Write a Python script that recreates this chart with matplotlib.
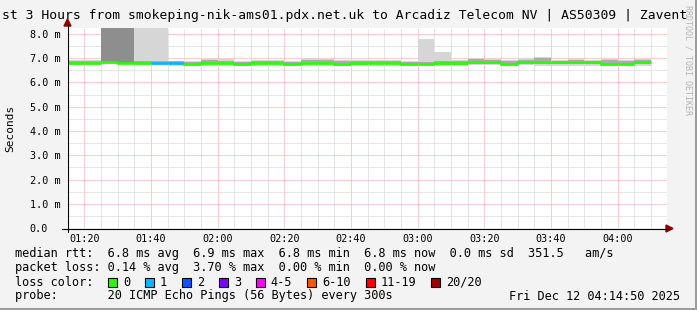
import matplotlib.pyplot as plt
from matplotlib.patches import Rectangle, Polygon
from matplotlib.lines import Line2D

W, H = 697, 310

# time window: 01:14:50 .. 04:14:50 (minutes after midnight)
t_start = 74 + 50 / 60
t_end = t_start + 180
first_seg = 75          # 01:15
step = 5                # 300 s

# per 5 minute interval (01:15 .. 04:05)
median = [6.82, 6.82, 6.84, 6.82, 6.82, 6.82, 6.82, 6.77, 6.82, 6.80,
          6.76, 6.79, 6.79, 6.76, 6.81, 6.81, 6.77, 6.79, 6.82, 6.82,
          6.78, 6.78, 6.82, 6.81, 6.83, 6.83, 6.78, 6.83, 6.83, 6.83,
          6.83, 6.83, 6.78, 6.78, 6.83]
loss = [0, 0, 0, 0, 0, 1, 1, 0, 0, 0,
        0, 0, 0, 0, 0, 0, 0, 0, 0, 0,
        0, 0, 0, 0, 0, 0, 0, 0, 0, 0,
        0, 0, 0, 0, 0]
smoke_lo = [6.72, 6.72, 6.76, 6.76, 6.72, 6.72, 6.70, 6.68, 6.70, 6.70,
            6.68, 6.70, 6.70, 6.68, 6.70, 6.70, 6.68, 6.70, 6.70, 6.70,
            6.70, 6.70, 6.68, 6.68, 6.72, 6.72, 6.70, 6.72, 6.70, 6.70,
            6.70, 6.70, 6.70, 6.70, 6.70]
smoke_hi = [6.92, 6.92, 9.00, 9.00, 9.00, 9.00, 6.90, 6.88, 6.98, 6.96,
            6.88, 6.92, 6.92, 6.88, 7.00, 6.98, 6.94, 6.94, 6.94, 6.94,
            6.88, 7.79, 7.26, 6.94, 7.02, 6.97, 6.92, 7.00, 7.06, 6.94,
            6.97, 6.94, 6.98, 6.92, 6.98]
core_lo = [6.77, 6.77, 6.80, 6.80, 6.77, 6.77, 6.75, 6.73, 6.77, 6.75,
           6.72, 6.75, 6.75, 6.72, 6.75, 6.75, 6.72, 6.74, 6.76, 6.76,
           6.73, 6.73, 6.73, 6.73, 6.77, 6.77, 6.73, 6.77, 6.75, 6.75,
           6.75, 6.75, 6.74, 6.74, 6.75]
core_hi = [6.88, 6.88, 9.00, 9.00, 6.90, 6.90, 6.88, 6.84, 6.92, 6.90,
           6.84, 6.88, 6.88, 6.84, 6.94, 6.92, 6.90, 6.90, 6.90, 6.90,
           6.84, 6.86, 6.90, 6.90, 6.96, 6.92, 6.88, 6.94, 7.00, 6.90,
           6.92, 6.90, 6.92, 6.88, 6.92]

tick_times = [80, 100, 120, 140, 160, 180, 200, 220, 240]
tick_labels = ['01:20', '01:40', '02:00', '02:20', '02:40', '03:00', '03:20', '03:40', '04:00']
y_ticks = [0, 1, 2, 3, 4, 5, 6, 7, 8]
y_labels = ['0.0', '1.0 m', '2.0 m', '3.0 m', '4.0 m', '5.0 m', '6.0 m', '7.0 m', '8.0 m']

loss_names = ['0', '1', '2', '3', '4-5', '6-10', '11-19', '20/20']
loss_colors = ['#26ff00', '#00b8ff', '#0059ff', '#7e00ff', '#ff00ff', '#ff5500', '#ff0000', '#a10000']

title = 'st 3 Hours from smokeping-nik-ams01.pdx.net.uk to Arcadiz Telecom NV | AS50309 | Zavent'
legend_rtt = 'median rtt:  6.8 ms avg  6.9 ms max  6.8 ms min  6.8 ms now  0.0 ms sd  351.5   am/s'
legend_loss = 'packet loss: 0.14 % avg  3.70 % max  0.00 % min  0.00 % now'
legend_probe = 'probe:       20 ICMP Echo Pings (56 Bytes) every 300s'
stamp = 'Fri Dec 12 04:14:50 2025'

MONO = 'DejaVu Sans Mono'
plt.rcParams['font.family'] = MONO

fig = plt.figure(figsize=(W / 100, H / 100), dpi=100, facecolor='#f3f3f3')
ax = fig.add_axes([67 / W, 1 - 228 / H, 600 / W, 200 / H])
ax.set_facecolor('white')
ax.set_axisbelow(True)
for s in ax.spines.values():
    s.set_visible(False)

# smoke
xs = [first_seg + step * i for i in range(len(median))]
ax.bar(xs, [h - l for h, l in zip(smoke_hi, smoke_lo)], width=step, bottom=smoke_lo,
       align='edge', color='#d6d6d6', lw=0, zorder=1)
core_cols = ['#8e8e8e' if h - l > 1 else '#ababab' for h, l in zip(core_hi, core_lo)]
ax.bar(xs, [h - l for h, l in zip(core_hi, core_lo)], width=step, bottom=core_lo,
       align='edge', color=core_cols, lw=0, zorder=2)

# median line coloured by loss
prev = median[0]
for x, m, l in zip(xs, median, loss):
    ax.plot([x, x, x + step], [prev, m, m], color=loss_colors[l], lw=1.9,
            solid_capstyle='butt', solid_joinstyle='miter', zorder=3)
    prev = m

# grid
ax.set_xticks(tick_times)
ax.set_xticks(list(range(75, 255, 5)), minor=True)
ax.set_xticklabels(tick_labels)
ax.set_yticks(y_ticks)
ax.set_yticks([v + 0.5 for v in y_ticks[:-1]], minor=True)
ax.set_yticklabels(y_labels)
ax.set_xlim(t_start, t_end)
ax.set_ylim(0, 200 / 24.25)
ax.grid(which='minor', color='#cfcfcf', ls=(0, (1, 1)), lw=0.72)
ax.grid(which='major', color='#f0a0a0', ls=(0, (1, 1)), lw=0.72)
ax.tick_params(which='both', length=0)
ax.tick_params(axis='x', pad=4, labelsize=7.3)
ax.tick_params(axis='y', pad=27, labelsize=7.3)
for lab in ax.get_yticklabels():
    lab.set_horizontalalignment('left')


def px(x, y):
    return (x / W, 1 - y / H)


# axes with arrows
fig.add_artist(Line2D([62 / W, 668 / W], [1 - 228.5 / H] * 2, color='black', lw=0.8))
fig.add_artist(Line2D([67.5 / W] * 2, [1 - 232 / H, 1 - 25 / H], color='black', lw=0.8))
fig.add_artist(Polygon([px(673, 228.5), px(666, 225), px(666, 232)], closed=True,
                       color='#8b0000', transform=fig.transFigure))
fig.add_artist(Polygon([px(67.5, 19), px(64, 26), px(71, 26)], closed=True,
                       color='#8b0000', transform=fig.transFigure))

# title and labels
fig.text(*px(2, 16), title, ha='left', va='center', fontsize=9.37, family=MONO)
fig.text(*px(10, 128), 'Seconds', rotation=90, ha='center', va='center', fontsize=8.0)
fig.text(*px(688, 5), 'RRDTOOL / TOBI OETIKER', rotation=270, ha='center', va='top',
         fontsize=6.0, color='#b4b4b4')

# legend
lsize = 8.6
fig.text(*px(15, 254), legend_rtt, va='center', fontsize=lsize)
fig.text(*px(15, 268), legend_loss, va='center', fontsize=lsize)
fig.text(*px(15, 282), 'loss color:', va='center', fontsize=lsize)
fig.text(*px(15, 296), legend_probe, va='center', fontsize=lsize)
fig.text(*px(680, 296), stamp, ha='right', va='center', fontsize=lsize)

bx = 108
for name, col in zip(loss_names, loss_colors):
    fig.add_artist(Rectangle(px(bx, 286.5), 9 / W, 9 / H, facecolor=col, edgecolor='black',
                             lw=0.8, transform=fig.transFigure))
    fig.text(*px(bx + 15, 282), name, va='center', fontsize=lsize)
    bx += 15 + len(name) * 7.17 + 14.8

# frame shadow
fig.add_artist(Rectangle((1 - 2 / W, 0), 2 / W, 1, color='#9c9c9c', lw=0,
                         transform=fig.transFigure))
fig.add_artist(Rectangle((0, 0), 1, 2 / H, color='#9c9c9c', lw=0,
                         transform=fig.transFigure))

fig.savefig('out.png', dpi=100, facecolor=fig.get_facecolor())
